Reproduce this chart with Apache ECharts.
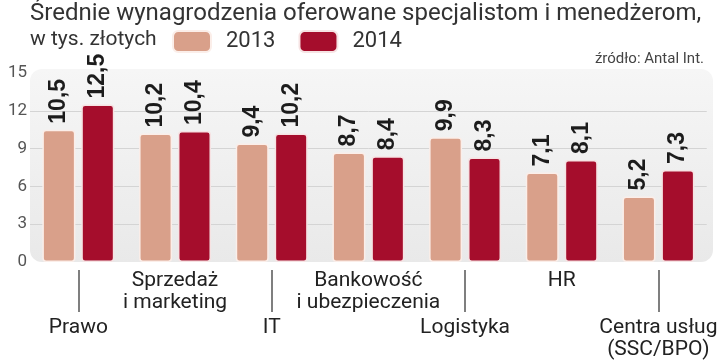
<!DOCTYPE html>
<html>
<head>
<meta charset="utf-8">
<script src="https://cdn.jsdelivr.net/npm/echarts@6/dist/echarts.min.js"></script>
<style>
html,body{margin:0;padding:0;background:#fff;}
#chart{width:720px;height:362px;}
</style>
</head>
<body>
<div id="chart"></div>
<script>
const categories = ['Prawo', 'Sprzedaż\ni marketing', 'IT', 'Bankowość\ni ubezpieczenia', 'Logistyka', 'HR', 'Centra usług\n(SSC/BPO)'];
const values2013 = [10.5, 10.2, 9.4, 8.7, 9.9, 7.1, 5.2];
const values2014 = [12.5, 10.4, 10.2, 8.4, 8.3, 8.1, 7.3];
const yTicks = [0, 3, 6, 9, 12, 15];

const chart = echarts.init(document.getElementById('chart'));
const gridLeft = 30, gridRight = 7, gridTop = 73, gridBottom = 100;

const valueLabel = {
  show: true,
  position: 'top',
  rotate: 90,
  align: 'left',
  verticalAlign: 'middle',
  distance: 6,
  fontFamily: '"Liberation Sans", Arial, sans-serif',
  fontWeight: 'bold',
  fontSize: 23,
  color: '#1c1c1c',
  formatter: p => String(p.value).replace('.', ',')
};

const option = {
  animation: false,
  backgroundColor: '#fff',
  textStyle: { fontFamily: 'Roboto, sans-serif' },
  title: [
    {
      text: 'Średnie wynagrodzenia oferowane specjalistom i menedżerom,',
      left: 30, top: 2, padding: 0,
      textStyle: { fontSize: 24, fontWeight: 'normal', color: '#333', fontFamily: 'Roboto, sans-serif' }
    },
    {
      text: 'w tys. złotych',
      left: 30, top: 29, padding: 0,
      textStyle: { fontSize: 21, fontWeight: 'normal', color: '#333', fontFamily: 'Roboto, sans-serif' }
    },
    {
      text: 'źródło: Antal Int.',
      right: 16, top: 52, padding: 0,
      textStyle: { fontSize: 15, fontWeight: 'normal', color: '#444', fontFamily: 'Roboto, sans-serif' }
    }
  ],
  legend: {
    left: 172, top: 30, padding: 0,
    itemWidth: 38, itemHeight: 21, itemGap: 23,
    icon: 'roundRect',
    textStyle: { fontSize: 22, color: '#333', padding: [0, 0, 0, 10], fontFamily: 'Roboto, sans-serif' },
    data: ['2013', '2014']
  },
  graphic: [{
    type: 'rect',
    z: -10,
    silent: true,
    shape: { x: gridLeft, y: gridTop - 4, width: 720 - gridLeft - gridRight, height: 362 - gridBottom - gridTop + 4, r: 12 },
    style: {
      fill: new echarts.graphic.LinearGradient(0, 0, 0, 1, [
        { offset: 0, color: '#f6f6f6' },
        { offset: 1, color: '#e9e9e9' }
      ])
    }
  }],
  grid: { left: gridLeft, right: gridRight, top: gridTop, bottom: gridBottom, containLabel: false },
  xAxis: [
    {
      type: 'category',
      data: categories,
      axisLine: { show: false },
      axisTick: { show: false },
      axisLabel: {
        interval: (i) => i % 2 === 1,
        margin: 8,
        fontSize: 21,
        lineHeight: 22,
        color: '#222'
      }
    },
    {
      type: 'category',
      data: categories,
      position: 'bottom',
      offset: 8,
      axisLine: { show: false },
      axisTick: {
        show: true,
        interval: (i) => i % 2 === 0,
        alignWithLabel: true,
        length: 42,
        lineStyle: { color: '#555', width: 1.5 }
      },
      axisLabel: {
        interval: (i) => i % 2 === 0,
        margin: 47,
        fontSize: 21,
        lineHeight: 22,
        color: '#222'
      }
    }
  ],
  yAxis: {
    type: 'value',
    min: 0, max: 15, interval: 3,
    axisLine: { show: false },
    axisTick: { show: false },
    axisLabel: { margin: 3, fontSize: 17, color: '#555', formatter: v => yTicks.includes(v) ? String(v) : '' },
    splitLine: { show: true, showMinLine: false, showMaxLine: false, lineStyle: { color: '#d4d4d4', width: 1 } }
  },
  series: [
    {
      name: '2013', type: 'bar', data: values2013,
      barWidth: 33, barGap: '18%',
      itemStyle: { color: '#d9a08a', borderColor: '#fbeee9', borderWidth: 1.5, borderRadius: 3 },
      label: valueLabel
    },
    {
      name: '2014', type: 'bar', data: values2014,
      barWidth: 33, barGap: '18%',
      itemStyle: { color: '#a50d2c', borderColor: '#f6e3e3', borderWidth: 1.5, borderRadius: 3 },
      label: valueLabel
    }
  ]
};
chart.setOption(option);
</script>
</body>
</html>
